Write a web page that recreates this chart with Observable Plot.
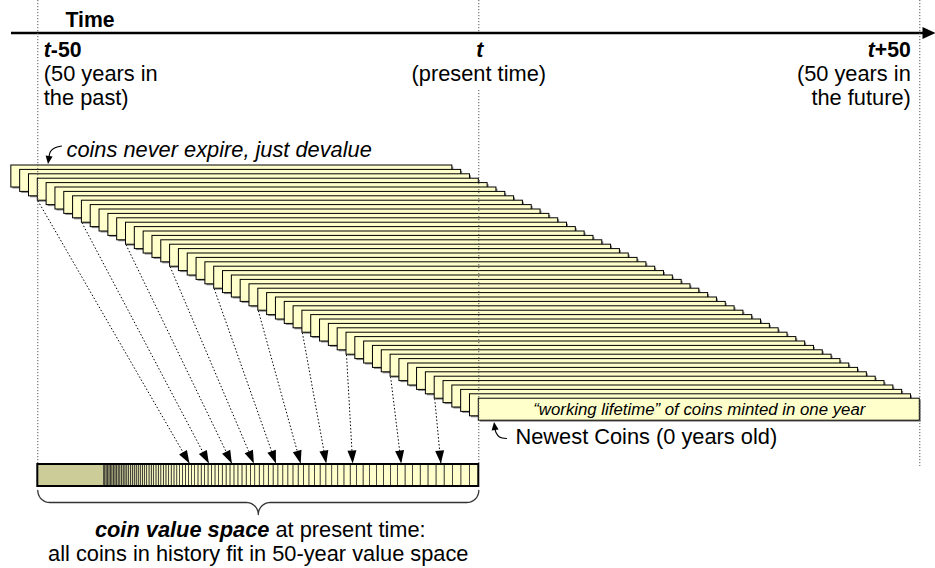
<!DOCTYPE html>
<html><head><meta charset="utf-8">
<script src="https://cdn.jsdelivr.net/npm/d3@7"></script>
<script src="https://cdn.jsdelivr.net/npm/@observablehq/plot@0.6"></script>
<style>html,body{margin:0;padding:0;background:#fff}#chart svg{display:block}</style>
</head><body><div id="chart"></div>
<script>
// ---------------- data ----------------
// start year (relative to present t) of each year's coin issue; each is "alive" 50 years
const coinStartYears = [-53,-52,-51,-50,-49,-48,-47,-46,-45,-44,-43,-42,-41,-40,-39,-38,-37,-36,
  -35,-34,-33,-32,-31,-30,-29,-28,-27,-26,-25,-24,-23,-22,-21,-20,-19,-18,-17,-16,-15,-14,-13,-12,
  -11,-10,-9,-8,-7,-6,-5,-4,-3,-2,-1,0];
const lifetimeYears = 50;
// time markers
const markerYears = [-50, 0, 50];
const markerTails = ["-50", "", "+50"];
const markerNotes = ["(50 years in\nthe past)", "(present time)", "(50 years in\nthe future)"];
// boundaries (years from t) of each coin year's share of the present value space, newest first
const valueBoundaries = [0,-1.00,-1.98,-2.94,-3.88,-4.80,-5.71,-6.59,-7.46,-8.31,-9.15,-9.96,-10.76,
  -11.55,-12.32,-13.07,-13.81,-14.53,-15.24,-15.94,-16.62,-17.29,-17.94,-18.58,-19.21,-19.83,-20.43,
  -21.02,-21.60,-22.17,-22.73,-23.27,-23.81,-24.33,-24.84,-25.35,-25.84,-26.32,-26.80,-27.26,-27.71,
  -28.16,-28.60,-29.03,-29.45,-29.86,-30.26,-30.65,-31.04,-31.42,-31.79,-32.16,-32.51,-32.86,-33.21,
  -33.54,-33.87,-34.19,-34.51,-34.82,-35.12,-35.42,-35.71,-36.00,-36.28,-36.55,-36.82,-37.08,-37.34,
  -37.60,-37.84,-38.09,-38.33,-38.56,-38.79,-39.01,-39.23,-39.45,-39.66,-39.86,-40.07,-40.27,-40.46,
  -40.65,-40.84,-41.02,-41.20,-41.38,-41.55,-41.72,-41.88,-42.05,-42.21,-42.36,-42.51];
// dotted arrows: from coin issue (start year) to its place in the value space
const arrowFromYears = [-50,-45,-40,-35,-30,-25,-20,-15,-10,-5];
const arrowToYears   = [-32.8,-30.6,-28.0,-25.5,-23.0,-20.2,-17.3,-14.3,-8.8,-4.3];
// texts
const axisTitle = "Time";
const expireNote = "coins never expire, just devalue";
const newestNote = "Newest Coins (0 years old)";
const lifetimeNote = "\u201cworking lifetime\u201d of coins minted in one year";
const spaceBold = "coin value space";
const spaceRest = " at present time:";
const spaceLine2 = "all coins in history fit in 50-year value space";

// ---------------- layout ----------------
const W = 935, H = 568;
const X0 = 478.3, PX = 8.82;            // pixel of t, pixels per year
const yr = px => (px - X0) / PX;        // pixel -> year (for layout positions)
const FONT = "Liberation Sans, Arial, Helvetica, sans-serif";
const FS = 21.8, FSB = 21.2;
const BAR_TOP = 165, STEP = 4.4, BAR_H = 22;
const VS_TOP = 464, VS_BOT = 486;
const YELLOW = "#ffffcc", OLIVE = "#cccc99";

const ctx = document.createElement("canvas").getContext("2d");
const tw = (t, f) => { ctx.font = f; return ctx.measureText(t).width; };

const bars = coinStartYears.map((s, i) => ({s, e: s + lifetimeYears, top: BAR_TOP + i * STEP}));
const barTop = s => bars.find(b => b.s === s).top;

const segs = valueBoundaries.slice(0, -1).map((b, k) => ({x2: b, x1: valueBoundaries[k + 1], k}));
const segFill = d3.interpolateRgb(YELLOW, "#c4c490");

const arrows = arrowFromYears.map((f, i) => {
  const y1 = barTop(f) + BAR_H, y2 = VS_TOP - 1;
  const dx = (arrowToYears[i] - f) * PX, dy = y2 - y1;
  return {x1: f, y1, x2: arrowToYears[i], y2, angle: Math.atan2(dx, -dy) * 180 / Math.PI};
});

const head = (w, h) => ({draw(c) { c.moveTo(0, 0); c.lineTo(-w / 2, h); c.lineTo(w / 2, h); c.closePath(); }});

// brace points (pixels -> years)
function brace(px1, px2, yEnd, r) {
  const pts = [], cx = (px1 + px2) / 2, n = 12;
  const arc = (ax, ay, a0, a1) => { for (let j = 0; j <= n; j++) { const a = a0 + (a1 - a0) * j / n; pts.push([ax + r * Math.cos(a), ay + r * Math.sin(a)]); } };
  arc(px1 + r, yEnd, Math.PI, Math.PI / 2);
  arc(cx - r, yEnd + 2 * r, -Math.PI / 2, 0);
  arc(cx + r, yEnd + 2 * r, Math.PI, 1.5 * Math.PI);
  arc(px2 - r, yEnd, Math.PI / 2, 0);
  return pts.map(([x, y]) => ({x: yr(x), y}));
}
const bracePts = brace(X0 - 50 * PX, X0, 490, 12);

const curl1 = [[61, 145.5], [54, 147.5], [50, 151], [48.5, 156]].map(([x, y]) => ({x: yr(x), y}));
const curl2 = [[506, 438], [499, 436.5], [495.5, 432], [494.5, 428]].map(([x, y]) => ({x: yr(x), y}));

const markers = markerYears.map((y, i) => ({y, tail: markerTails[i], note: markerNotes[i],
  anchor: i === 0 ? "start" : i === 1 ? "middle" : "end"}));
const mStart = markers.filter(d => d.anchor === "start");
const mMid = markers.filter(d => d.anchor === "middle");
const mEnd = markers.filter(d => d.anchor === "end");

const fBI = `italic bold ${FSB}px ${FONT}`, fB = `bold ${FSB}px ${FONT}`;
const f1 = `italic bold ${FS}px ${FONT}`, f2 = `${FS}px ${FONT}`;
const w1 = tw(spaceBold, f1), w2 = tw(spaceRest, f2);

const txt = (data, o) => Plot.text(data, {lineAnchor: "bottom", fontSize: FS, ...o});

const chart = Plot.plot({
  width: W, height: H, margin: 0,
  x: {domain: [yr(0), yr(W)], range: [0, W], axis: null},
  y: {domain: [0, H], range: [0, H], axis: null},
  style: {fontFamily: FONT, background: "#fff"},
  marks: [
    // time axis
    Plot.ruleY([32.5], {x1: yr(11), x2: yr(924), stroke: "#000", strokeWidth: 2.5}),
    Plot.dot([{x: yr(935), y: 32.5}], {x: "x", y: "y", symbol: head(12, 13), rotate: 90, fill: "#000", stroke: "none"}),
    // coin issues (shadow + bar)
    Plot.rect(bars, {x1: "s", x2: "e", y1: "top", y2: d => d.top + BAR_H, fill: "#8c8c8c", dx: 1.5, dy: 1.5}),
    Plot.rect(bars, {x1: "s", x2: "e", y1: "top", y2: d => d.top + BAR_H, fill: YELLOW, stroke: "#000", strokeWidth: 1}),
    // dotted time markers
    Plot.ruleX([-50], {y1: 0, y2: 463, stroke: "#555", strokeDasharray: "1.2,1.8"}),
    Plot.ruleX([0], {y1: 0, y2: 33, stroke: "#555", strokeDasharray: "1.2,1.8"}),
    Plot.ruleX([0], {y1: 90, y2: 463, stroke: "#555", strokeDasharray: "1.2,1.8"}),
    Plot.ruleX([50], {y1: 0, y2: 466, stroke: "#555", strokeDasharray: "1.2,1.8"}),
    // dotted arrows
    Plot.link(arrows, {x1: "x1", y1: "y1", x2: "x2", y2: "y2", stroke: "#000", strokeWidth: 1, strokeDasharray: "1.5,2"}),
    Plot.dot(arrows, {x: "x2", y: "y2", symbol: head(9, 13), rotate: "angle", fill: "#000", stroke: "none"}),
    // value space bar
    Plot.rect([{x1: -50, x2: 0}], {x1: "x1", x2: "x2", y1: VS_TOP, y2: VS_BOT, fill: OLIVE}),
    Plot.rect(segs, {x1: "x1", x2: "x2", y1: VS_TOP, y2: VS_BOT, fill: d => segFill(Math.max(0, (d.k - 55) / 40)), stroke: "#222", strokeWidth: 0.7}),
    Plot.rect([{x1: -50, x2: 0}], {x1: "x1", x2: "x2", y1: VS_TOP, y2: VS_BOT, fill: "none", stroke: "#000", strokeWidth: 2}),
    // brace
    Plot.line(bracePts, {x: "x", y: "y", stroke: "#333", strokeWidth: 1.3}),
    // curled pointer arrows
    Plot.line(curl1, {x: "x", y: "y", curve: "catmull-rom", stroke: "#000", strokeWidth: 1.2}),
    Plot.dot([{x: yr(47.5), y: 163.5}], {x: "x", y: "y", symbol: head(7, 8), rotate: 188, fill: "#000", stroke: "none"}),
    Plot.line(curl2, {x: "x", y: "y", curve: "catmull-rom", stroke: "#000", strokeWidth: 1.2}),
    Plot.dot([{x: yr(493.5), y: 421.5}], {x: "x", y: "y", symbol: head(7, 8), rotate: -8, fill: "#000", stroke: "none"}),
    // axis title
    txt([axisTitle], {x: yr(65), y: 26, text: d => d, textAnchor: "start", fontSize: FSB, fontWeight: "bold"}),
    // t markers
    txt(mMid, {x: "y", y: 56, text: () => "t", textAnchor: "middle", fontSize: FSB, fontWeight: "bold", fontStyle: "italic", dx: 1}),
    txt(mStart, {x: "y", y: 56, text: () => "t", textAnchor: "start", fontSize: FSB, fontWeight: "bold", fontStyle: "italic", dx: 6}),
    txt(mStart, {x: "y", y: 56, text: "tail", textAnchor: "start", fontSize: FSB, fontWeight: "bold", dx: 6 + tw("t", fBI)}),
    txt(mEnd, {x: "y", y: 56, text: "tail", textAnchor: "end", fontSize: FSB, fontWeight: "bold", dx: -9}),
    txt(mEnd, {x: "y", y: 56, text: () => "t", textAnchor: "end", fontSize: FSB, fontWeight: "bold", fontStyle: "italic", dx: -9 - tw("+50", fB)}),
    txt(mStart, {x: "y", y: 104, text: "note", textAnchor: "start", lineHeight: 24 / FS, dx: 6}),
    txt(mMid, {x: "y", y: 80, text: "note", textAnchor: "middle", dx: 0}),
    txt(mEnd, {x: "y", y: 104, text: "note", textAnchor: "end", lineHeight: 24 / FS, dx: -9}),
    // notes
    txt([expireNote], {x: yr(66), y: 156, text: d => d, textAnchor: "start", fontStyle: "italic"}),
    txt([lifetimeNote], {x: 25, y: 414, text: d => d, textAnchor: "middle", fontSize: 16.8, fontStyle: "italic"}),
    txt([newestNote], {x: yr(515), y: 443, text: d => d, textAnchor: "start"}),
    // value space caption
    txt([spaceBold], {x: -25, y: 536, text: d => d, textAnchor: "start", fontWeight: "bold", fontStyle: "italic", dx: 2 - (w1 + w2) / 2}),
    txt([spaceRest], {x: -25, y: 536, text: d => d, textAnchor: "start", dx: 2 - (w1 + w2) / 2 + w1}),
    txt([spaceLine2], {x: -25, y: 560, text: d => d, textAnchor: "middle"})
  ]
});
document.getElementById("chart").appendChild(chart);
</script>
</body></html>
